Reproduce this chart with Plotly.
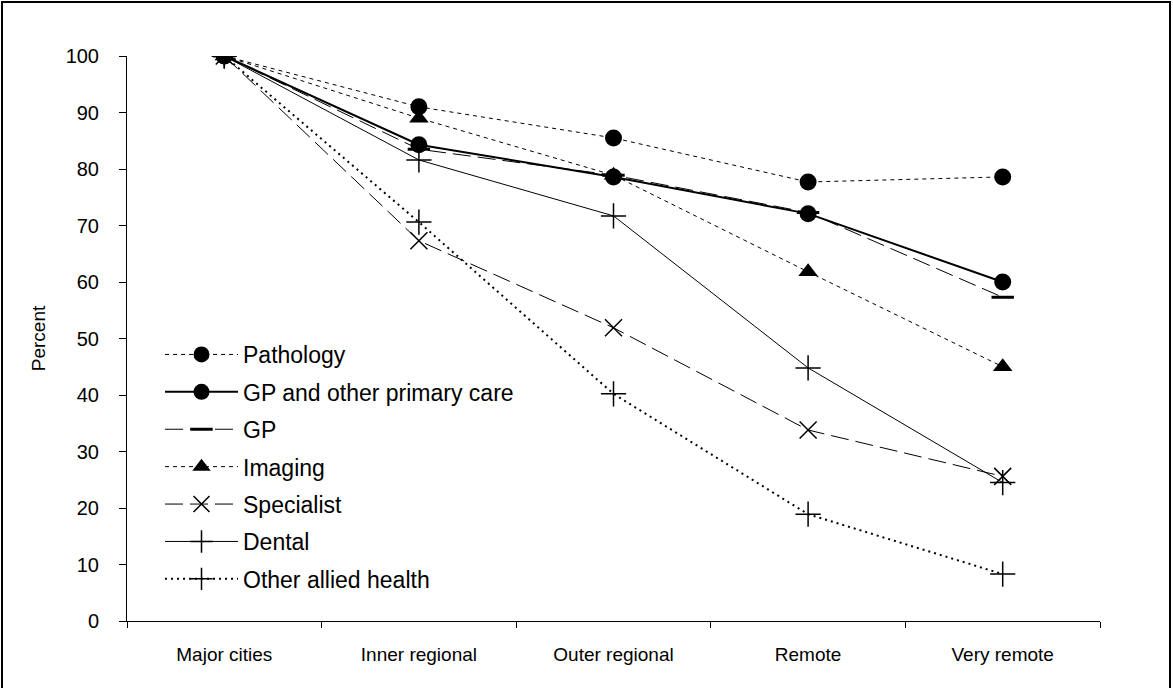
import plotly.graph_objects as go

categories = ["Major cities", "Inner regional", "Outer regional", "Remote", "Very remote"]
pathology = [100, 91.0, 85.5, 77.7, 78.6]
gp_other = [100, 84.3, 78.6, 72.1, 60.0]
gp = [100, 83.5, 78.9, 72.3, 57.3]
imaging = [100, 89.0, 78.9, 61.8, 45.0]
specialist = [100, 67.3, 51.9, 33.8, 25.6]
dental = [100, 81.6, 71.7, 44.8, 24.5]
other_allied = [100, 70.6, 40.2, 18.9, 8.3]
y_ticks = list(range(0, 101, 10))

series = [
    ("Pathology", pathology, dict(width=1, dash="4px,4px"), dict(symbol="circle", size=17)),
    ("GP and other primary care", gp_other, dict(width=2), dict(symbol="circle", size=17)),
    ("GP", gp, dict(width=1, dash="18px,7px"),
     dict(symbol="line-ew-open", size=16, line=dict(width=3, color="black"))),
    ("Imaging", imaging, dict(width=1, dash="4px,4px"), dict(symbol="triangle-up", size=17)),
    ("Specialist", specialist, dict(width=1, dash="18px,7px"),
     dict(symbol="x-thin-open", size=17, line=dict(width=1.5, color="black"))),
    ("Dental", dental, dict(width=1),
     dict(symbol="cross-thin-open", size=18, line=dict(width=1.5, color="black"))),
    ("Other allied health", other_allied, dict(width=2, dash="2px,4px"),
     dict(symbol="cross-thin-open", size=18, line=dict(width=1.5, color="black"))),
]

fig = go.Figure()
for i, (name, vals, ln, mk) in enumerate(series):
    ln = dict(ln, color="black")
    mk = dict(mk, color="black")
    fig.add_trace(go.Scatter(x=categories, y=vals, name=name, mode="lines+markers",
                             line=ln, marker=mk, legendgroup=f"g{i}"))

W, H = 1173, 688
L, R, T, B = 127, 73, 56, 67
pw, ph = W - L - R, H - T - B

fig.update_layout(
    width=W, height=H,
    margin=dict(l=L, r=R, t=T, b=B, autoexpand=False),
    paper_bgcolor="white", plot_bgcolor="white",
    font=dict(family="Liberation Sans, Arial, sans-serif", size=19, color="black"),
    showlegend=True,
    legend=dict(x=(160 - L) / pw, y=(621 - 333) / ph, xanchor="left", yanchor="top",
                font=dict(size=23), itemwidth=73, tracegroupgap=4.5,
                bgcolor="rgba(0,0,0,0)"),
    xaxis=dict(type="category", range=[-0.5, 4.5], showline=True, linecolor="black",
               linewidth=1, ticks="outside", tickson="boundaries", ticklen=6,
               tickcolor="black", showgrid=False, zeroline=False,
               ticklabelstandoff=16, tickfont=dict(size=19)),
    yaxis=dict(range=[0, 100], tickvals=y_ticks, showline=True, linecolor="black",
               linewidth=1, ticks="outside", ticklen=7, tickcolor="black",
               showgrid=False, zeroline=False, ticklabelstandoff=16,
               tickfont=dict(size=20),
               title=dict(text="Percent", standoff=14, font=dict(size=19))),
    shapes=[dict(type="rect", xref="paper", yref="paper",
                 x0=(2 - L) / pw, x1=(1170 - L) / pw,
                 y0=(621 - 692) / ph, y1=(621 - 2) / ph,
                 line=dict(color="black", width=2), fillcolor="rgba(0,0,0,0)")],
)

fig.write_html("out.html", config={"displayModeBar": False},
               post_script="document.body.style.margin='0';document.body.style.padding='0';")
